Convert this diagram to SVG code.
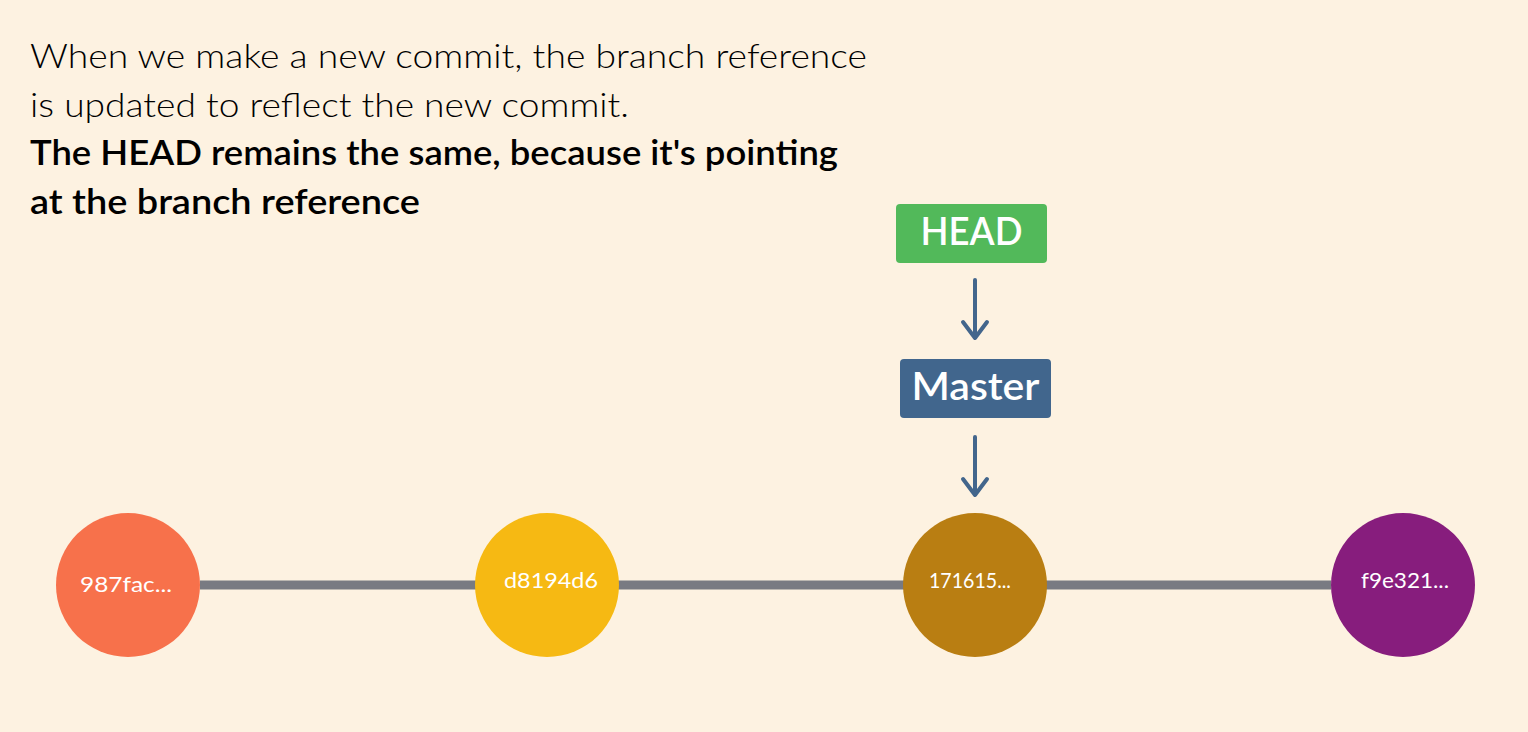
<svg xmlns="http://www.w3.org/2000/svg" width="1528" height="732" viewBox="0 0 1528 732">
<style>
.t{font-family:Lato,"Noto Sans",sans-serif;font-size:34px;font-weight:300;fill:#000}
.b{font-weight:600}
.lbl{font-family:Lato,"Noto Sans",sans-serif;font-size:38px;font-weight:600;fill:#fff;text-anchor:middle}
.c{font-family:Lato,"Noto Sans",sans-serif;font-size:21px;fill:#fff;text-anchor:middle}
.arr{stroke:#43668c;stroke-width:4;fill:none;stroke-linecap:round;stroke-linejoin:round}
</style>
<rect width="1528" height="732" fill="#fdf2e1"/>
<g id="caption">
<text class="t" x="30" y="68" textLength="837" lengthAdjust="spacingAndGlyphs">When we make a new commit, the branch reference</text>
<text class="t" x="30" y="117" textLength="599" lengthAdjust="spacingAndGlyphs">is updated to reflect the new commit.</text>
<text class="t b" x="30" y="165" textLength="808" lengthAdjust="spacingAndGlyphs">The HEAD remains the same, because it's pointing</text>
<text class="t b" x="30" y="214" textLength="390" lengthAdjust="spacingAndGlyphs">at the branch reference</text>
</g>
<g id="connectors">
<line x1="200" y1="585" x2="1331" y2="585" stroke="#787a82" stroke-width="9"/>
<path class="arr" d="M975 280 V337 M963 322 L975 338 L987 322"/>
<path class="arr" d="M975 437 V494 M963 479 L975 495 L987 479"/>
</g>
<g id="head">
<rect x="896" y="204" width="151" height="59" rx="4" fill="#52b95a"/>
<text class="lbl" x="971.5" y="245" textLength="102" lengthAdjust="spacingAndGlyphs">HEAD</text>
</g>
<g id="master">
<rect x="900" y="359" width="151" height="59" rx="4" fill="#41668d"/>
<text class="lbl" x="975.5" y="400" textLength="128" lengthAdjust="spacingAndGlyphs">Master</text>
</g>
<g id="c1">
<circle cx="128" cy="585" r="72" fill="#f7714b"/>
<text class="c" x="126" y="592" textLength="92" lengthAdjust="spacingAndGlyphs">987fac...</text>
</g>
<g id="c2">
<circle cx="547" cy="585" r="72" fill="#f6b913"/>
<text class="c" x="551" y="588" textLength="94" lengthAdjust="spacingAndGlyphs">d8194d6</text>
</g>
<g id="c3">
<circle cx="975" cy="585" r="72" fill="#b97e12"/>
<text class="c" x="970" y="588" textLength="82" lengthAdjust="spacingAndGlyphs">171615...</text>
</g>
<g id="c4">
<circle cx="1403" cy="585" r="72" fill="#871d7d"/>
<text class="c" x="1405" y="588" textLength="88" lengthAdjust="spacingAndGlyphs">f9e321...</text>
</g>
</svg>
